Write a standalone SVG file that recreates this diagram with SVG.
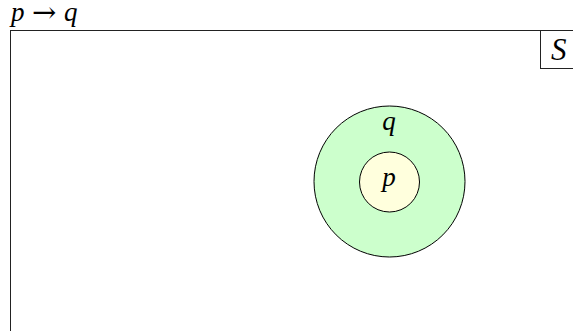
<svg xmlns="http://www.w3.org/2000/svg" width="573" height="331" viewBox="0 0 573 331">
<style>
.ln{fill:none;stroke:#222;stroke-width:1}
.m{font-family:"Liberation Serif",serif;font-style:italic;fill:#000}
.r{font-family:"DejaVu Serif","Liberation Serif",serif;fill:#000}
</style>
<rect width="573" height="331" fill="#fff"/>
<g id="universe">
<rect class="ln" x="10.5" y="30.5" width="600" height="400"/>
<rect class="ln" x="540.5" y="30.5" width="60" height="38"/>
<text class="m" x="551" y="60" font-size="31">S</text>
</g>
<g id="title">
<text class="m" x="11" y="21" font-size="27">p</text>
<text class="r" x="32" y="22" font-size="29" font-style="normal">→</text>
<text class="m" x="64" y="21" font-size="27">q</text>
</g>
<g id="q">
<circle cx="389.5" cy="181.5" r="75.5" fill="#ccffcc" stroke="#000" stroke-width="1"/>
<text class="m" x="389" y="130" font-size="27" text-anchor="middle">q</text>
</g>
<g id="p">
<circle cx="389.5" cy="182" r="30" fill="#ffffdd" stroke="#000" stroke-width="1"/>
<text class="m" x="389" y="186" font-size="27" text-anchor="middle">p</text>
</g>
<g id="connectors"></g>
</svg>
